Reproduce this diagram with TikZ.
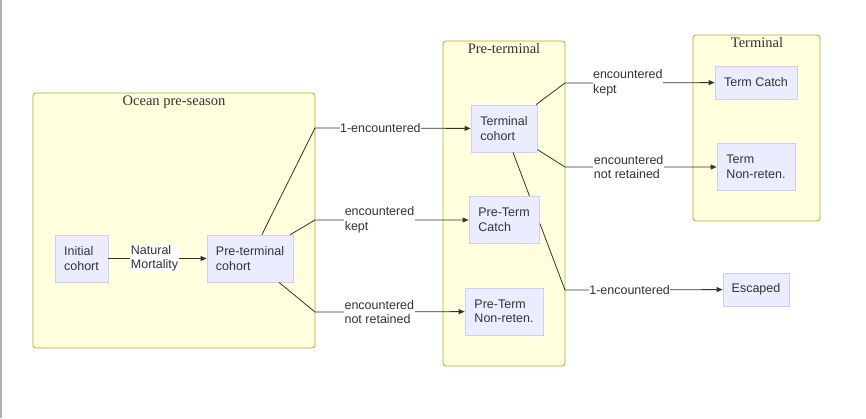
\documentclass[tikz,border=0pt]{standalone}
\usepackage{fontspec}
\setmainfont{Liberation Sans}
\newfontfamily\serifttl{Liberation Serif}
\usetikzlibrary{arrows.meta}
\definecolor{clusterfill}{HTML}{FFFFDE}
\definecolor{clusterline}{HTML}{AAAA33}
\definecolor{boxfill}{HTML}{ECECFF}
\definecolor{boxline}{HTML}{CCCCFF}
\definecolor{ink}{HTML}{333333}

\begin{document}
\begin{tikzpicture}[
        x=1pt,y=-1pt,
        cluster/.style={draw=clusterline,fill=clusterfill,line width=0.8pt,rounded corners=3pt},
        clustertitle/.style={text=ink,anchor=base,font=\serifttl\fontsize{14.5}{16}\selectfont},
        stock/.style={draw=boxline,fill=boxfill,line width=0.8pt,text=ink,align=left,minimum height=47pt,inner sep=0pt,font=\fontsize{12.5}{14.5}\selectfont},
        flow/.style={draw=ink,line width=0.8pt,-{Triangle[length=6pt,width=5pt]}},
        rate/.style={fill=white,text=ink,align=left,inner sep=0.5pt,font=\fontsize{12.5}{14.5}\selectfont}
    ]

    \useasboundingbox (0,0) rectangle (866,418);
    \draw[gray!60,line width=1.5pt] (0.75,0) -- (0.75,418);

    \draw[cluster] (33,93) rectangle (315,348);
    \draw[cluster] (443,41) rectangle (565,366);
    \draw[cluster] (693,35) rectangle (820,221);
    \node[clustertitle] (oceantitle) at (174,105) {Ocean pre-season};
    \node[clustertitle] (pretermtitle) at (504,53) {Pre-terminal};
    \node[clustertitle] (termtitle) at (757,47) {Terminal};

    \node[stock,minimum width=53pt] (initial) at (81.5,258.5) {Initial\\cohort};
    \node[stock,minimum width=86pt] (precohort) at (250,258.5) {Pre-terminal\\cohort};
    \node[stock,minimum width=66pt] (termcohort) at (504,128.5) {Terminal\\cohort};
    \node[stock,minimum width=78pt] (ptnonret) at (504,311.5) {Pre-Term\\Non-reten.};
    \node[stock,minimum width=82pt,minimum height=33pt] (tcatch) at (756,82.5) {Term Catch};
    \node[stock,minimum width=78pt] (tnonret) at (756,167) {Term\\Non-reten.};
    \node[stock,minimum width=66pt,minimum height=33pt] (escaped) at (756,289.5) {Escaped};

    \coordinate (bend1) at (315,128);
    \coordinate (bend2) at (315,220);
    \coordinate (bend3) at (315,312);
    \coordinate (bend4) at (565,83);
    \coordinate (bend5) at (565,167);
    \coordinate (bend6) at (565,290);

    \draw[flow] (termcohort) -- (bend6) -- node[rate,pos=0.41] {1-encountered} (escaped);
    \node[stock,minimum width=70pt] (ptcatch) at (504,220) {Pre-Term\\Catch};

    \draw[flow] (initial) -- node[rate,pos=0.47] {Natural\\Mortality} (precohort);
    \draw[flow] (precohort) -- (bend1) -- node[rate,pos=0.42] {1-encountered} (termcohort);
    \draw[flow] (precohort) -- (bend2) -- node[rate,pos=0.42] {encountered\\kept} (ptcatch);
    \draw[flow] (precohort) -- (bend3) -- node[rate,pos=0.43] {encountered\\not retained} (ptnonret);
    \draw[flow] (termcohort) -- (bend4) -- node[rate,pos=0.42] {encountered\\kept} (tcatch);
    \draw[flow] (termcohort) -- (bend5) -- node[rate,pos=0.42] {encountered\\not retained} (tnonret);

\end{tikzpicture}
\end{document}
